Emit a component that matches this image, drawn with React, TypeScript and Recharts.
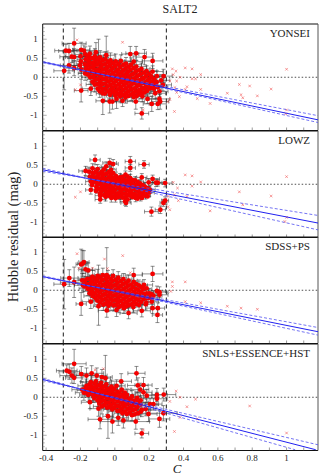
import { ComposedChart, Scatter, ErrorBar, XAxis, YAxis, ReferenceLine } from 'recharts';

type Pt = [number, number, number, number];
type Xy = [number, number];

const xTicks = [-0.4, -0.3, -0.2, -0.1, 0, 0.1, 0.2, 0.3, 0.4, 0.5, 0.6, 0.7, 0.8, 0.9, 1, 1.1];
const xLabels = [-0.4, -0.2, 0, 0.2, 0.4, 0.6, 0.8, 1];
const yTicks = [-1.3, -1.2, -1.1, -1, -0.9, -0.8, -0.7, -0.6, -0.5, -0.4, -0.3, -0.2, -0.1, 0, 0.1, 0.2, 0.3, 0.4, 0.5, 0.6, 0.7, 0.8, 0.9, 1, 1.1, 1.2, 1.3];
const yLabels = [-1, -0.5, 0, 0.5, 1];
const cutLines = [-0.3, 0.3];

// c, residual, c error, residual error
const yonseiDots: Pt[] = [
  [-0.237, 0.89, 0.07, 0.4], [-0.285, 0.7, 0.065, 0.16], [-0.267, 0.69, 0.06, 0.2], [-0.295, 0.17, 0.06, 0.5],
  [-0.267, 0.31, 0.05, 0.2], [-0.237, 0.24, 0.06, 0.2], [-0.25, 0.54, 0.07, 0.15], [-0.237, 0.53, 0.05, 0.22],
  [-0.196, -0.35, 0.04, 0.3], [-0.196, 0.72, 0.05, 0.2], [-0.18, 0.7, 0.06, 0.15], [-0.11, 0.66, 0.07, 0.25],
  [-0.095, 0.5, 0.05, 0.5], [-0.05, 0.58, 0.05, 0.5], [-0.07, -0.62, 0.04, 0.36], [-0.03, -0.64, 0.04, 0.3],
  [-0.014, -0.64, 0.05, 0.2], [0.01, -0.57, 0.05, 0.25], [0.045, -0.62, 0.06, 0.15], [0.122, -0.64, 0.05, 0.2],
  [0.09, 0.61, 0.05, 0.2], [0.124, 0.63, 0.06, 0.18], [0.173, 0.53, 0.05, 0.2], [0.22, 0.43, 0.06, 0.2],
  [0.11, 0.41, 0.05, 0.15], [0.157, -0.95, 0.04, 0.15], [0.215, -0.7, 0.05, 0.2], [0.264, -0.64, 0.05, 0.2],
  [0.25, -0.7, 0.05, 0.15], [0.284, 0.03, 0.05, 0.18], [0.26, -0.57, 0.06, 0.12], [0.16, -0.5, 0.06, 0.15],
  [0.22, 0.15, 0.06, 0.15], [0.23, -0.23, 0.05, 0.15], [0.235, -0.42, 0.06, 0.15], [0.19, -0.57, 0.05, 0.12],
  [0.26, -0.37, 0.05, 0.14], [0.27, -0.08, 0.05, 0.15], [0.28, -0.2, 0.05, 0.16], [-0.14, -0.3, 0.05, 0.18],
  [-0.2, 0.55, 0.06, 0.18], [-0.198, 0.42, 0.05, 0.2], [-0.203, 0.31, 0.05, 0.2], [-0.195, 0.2, 0.05, 0.17],
  [-0.172, 0.6, 0.06, 0.2], [-0.17, 0.47, 0.05, 0.16], [-0.175, 0.35, 0.05, 0.2], [-0.168, 0.23, 0.05, 0.17], [-0.173, 0.1, 0.04, 0.18],
  [-0.145, 0.62, 0.05, 0.2], [-0.142, 0.5, 0.05, 0.18], [-0.148, 0.38, 0.05, 0.16], [-0.14, 0.26, 0.06, 0.18], [-0.146, 0.13, 0.05, 0.16], [-0.143, 0.0, 0.05, 0.18],
  [-0.116, 0.55, 0.05, 0.2], [-0.113, 0.43, 0.05, 0.18], [-0.118, 0.31, 0.05, 0.15], [-0.11, 0.19, 0.06, 0.17], [-0.115, 0.07, 0.05, 0.18], [-0.112, -0.06, 0.05, 0.16], [-0.117, -0.19, 0.05, 0.2],
  [-0.085, 0.52, 0.05, 0.18], [-0.088, 0.39, 0.05, 0.17], [-0.082, 0.26, 0.06, 0.14], [-0.087, 0.14, 0.05, 0.17], [-0.083, 0.01, 0.05, 0.15], [-0.086, -0.12, 0.05, 0.18], [-0.084, -0.25, 0.05, 0.2], [-0.088, -0.37, 0.05, 0.16],
  [-0.055, 0.47, 0.05, 0.2], [-0.058, 0.34, 0.05, 0.17], [-0.052, 0.21, 0.06, 0.15], [-0.057, 0.09, 0.05, 0.17], [-0.053, -0.04, 0.05, 0.15], [-0.056, -0.17, 0.05, 0.18], [-0.054, -0.3, 0.05, 0.16], [-0.058, -0.43, 0.05, 0.18],
  [-0.025, 0.44, 0.05, 0.2], [-0.028, 0.31, 0.05, 0.15], [-0.022, 0.18, 0.06, 0.17], [-0.027, 0.05, 0.05, 0.15], [-0.023, -0.08, 0.05, 0.16], [-0.026, -0.21, 0.06, 0.18], [-0.024, -0.34, 0.05, 0.17], [-0.028, -0.46, 0.05, 0.16],
  [0.005, 0.42, 0.05, 0.19], [0.002, 0.29, 0.05, 0.15], [0.008, 0.16, 0.06, 0.16], [0.003, 0.03, 0.05, 0.17], [0.007, -0.1, 0.05, 0.15], [0.004, -0.23, 0.06, 0.18], [0.006, -0.36, 0.05, 0.16], [0.002, -0.48, 0.05, 0.17],
  [0.035, 0.43, 0.06, 0.16], [0.032, 0.27, 0.05, 0.15], [0.038, 0.13, 0.06, 0.16], [0.033, 0.0, 0.05, 0.16], [0.037, -0.13, 0.05, 0.15], [0.034, -0.26, 0.06, 0.18], [0.036, -0.39, 0.05, 0.16], [0.032, -0.5, 0.05, 0.17],
  [0.065, 0.36, 0.05, 0.16], [0.062, 0.23, 0.05, 0.15], [0.068, 0.1, 0.06, 0.16], [0.063, -0.03, 0.05, 0.15], [0.067, -0.16, 0.05, 0.16], [0.064, -0.29, 0.06, 0.17], [0.066, -0.42, 0.05, 0.16], [0.062, -0.53, 0.05, 0.15],
  [0.095, 0.33, 0.06, 0.18], [0.092, 0.2, 0.05, 0.15], [0.098, 0.07, 0.06, 0.16], [0.093, -0.06, 0.05, 0.15], [0.097, -0.19, 0.05, 0.16], [0.094, -0.32, 0.06, 0.17], [0.096, -0.45, 0.05, 0.16],
  [0.125, 0.28, 0.06, 0.16], [0.122, 0.15, 0.05, 0.15], [0.128, 0.02, 0.06, 0.15], [0.123, -0.11, 0.05, 0.15], [0.127, -0.24, 0.05, 0.16], [0.124, -0.37, 0.06, 0.17], [0.126, -0.5, 0.05, 0.14],
  [0.155, 0.22, 0.05, 0.15], [0.152, 0.09, 0.05, 0.14], [0.158, -0.04, 0.06, 0.15], [0.153, -0.17, 0.05, 0.14], [0.157, -0.3, 0.06, 0.15], [0.154, -0.41, 0.05, 0.15],
  [0.185, 0.16, 0.06, 0.14], [0.182, 0.03, 0.05, 0.14], [0.188, -0.1, 0.05, 0.15], [0.183, -0.23, 0.06, 0.14], [0.187, -0.36, 0.05, 0.13],
  [0.212, 0.02, 0.05, 0.14], [0.216, -0.12, 0.05, 0.14], [0.21, -0.28, 0.06, 0.14], [0.245, 0.03, 0.05, 0.14], [0.243, -0.13, 0.05, 0.14], [0.248, -0.26, 0.06, 0.13],
];
// dots packed inside the solid part of the cloud, their bars cannot be seen
const yonseiCore: Xy[] = [
  [-0.157, 0.56], [-0.155, 0.44], [-0.159, 0.32], [-0.156, 0.2], [-0.158, 0.07],
  [-0.128, 0.5], [-0.13, 0.37], [-0.127, 0.25], [-0.129, 0.13], [-0.126, 0], [-0.13, -0.12],
  [-0.1, 0.47], [-0.102, 0.33], [-0.099, 0.2], [-0.101, 0.08], [-0.098, -0.05], [-0.102, -0.18], [-0.1, -0.3],
  [-0.07, 0.45], [-0.072, 0.33], [-0.069, 0.2], [-0.071, 0.08], [-0.068, -0.05], [-0.072, -0.18], [-0.07, -0.31], [-0.071, -0.42],
  [-0.04, 0.4], [-0.042, 0.27], [-0.039, 0.15], [-0.041, 0.02], [-0.038, -0.11], [-0.042, -0.24], [-0.04, -0.37],
  [-0.01, 0.37], [-0.012, 0.24], [-0.009, 0.11], [-0.011, -0.02], [-0.008, -0.15], [-0.012, -0.28], [-0.01, -0.4],
  [0.02, 0.35], [0.018, 0.2], [0.021, 0.08], [0.019, -0.05], [0.022, -0.19], [0.018, -0.32], [0.02, -0.44],
  [0.05, 0.33], [0.048, 0.18], [0.051, 0.05], [0.049, -0.08], [0.052, -0.2], [0.048, -0.33], [0.05, -0.46],
  [0.08, 0.28], [0.078, 0.15], [0.081, 0.02], [0.079, -0.11], [0.082, -0.24], [0.078, -0.37], [0.08, -0.49],
  [0.11, 0.24], [0.108, 0.09], [0.111, -0.04], [0.109, -0.16], [0.112, -0.3], [0.108, -0.42], [0.11, -0.52],
  [0.14, 0.18], [0.138, 0.05], [0.141, -0.08], [0.139, -0.21], [0.142, -0.34], [0.138, -0.45],
  [0.17, 0.12], [0.168, -0.02], [0.171, -0.15], [0.169, -0.28], [0.172, -0.4],
  [0.2, 0.08], [0.198, -0.05], [0.201, -0.17], [0.199, -0.3], [0.228, -0.05], [0.23, -0.19], [0.227, -0.3],
];
const yonseiCrosses: Xy[] = [
  [0.335, 0.22], [0.356, 0.16], [0.41, 0.245], [0.45, 0.22], [0.5, 0.07], [0.32, -0.1], [0.34, 0.07], [0.38, 0], [0.45, -0.04], [0.47, -0.04],
  [0.36, -0.1], [0.35, -0.27], [0.42, -0.25], [0.41, -0.32], [0.36, -0.4], [0.376, -0.51], [0.48, -0.56], [0.5, -0.32], [0.555, -0.69], [0.655, -0.42],
  [0.725, -0.19], [0.785, -0.23], [0.735, -0.46], [0.745, -0.54], [0.83, -0.49], [0.91, -0.31], [1.0, 0.21], [1.0, -0.86], [0.995, -0.96], [0.347, -0.9],
  [0.32, -0.58], [0.31, -0.64], [0.045, 0.92], [-0.22, 0.98], [0.165, -0.86], [-0.23, -0.33], [-0.2, -0.2],
];
const yonseiFit: Xy[] = [[-0.42, 0.4], [1.183, -1.12]];
const yonseiUpper: Xy[] = [[-0.42, 0.38], [1.183, -1.01]];
const yonseiLower: Xy[] = [[-0.42, 0.42], [1.183, -1.19]];

const lowzDots: Pt[] = [
  [-0.115, 0.64, 0.03, 0.13], [0.09, 0.6, 0.03, 0.13], [0.17, 0.52, 0.03, 0.1], [0.09, 0.43, 0.03, 0.09], [-0.03, 0.56, 0.04, 0.12], [-0.01, 0.53, 0.03, 0.12],
  [0.157, 0.18, 0.03, 0.1], [0.22, 0.14, 0.04, 0.1], [0.197, 0.05, 0.03, 0.1], [0.24, 0.04, 0.03, 0.1], [0.25, 0.04, 0.03, 0.09], [0.293, 0.03, 0.04, 0.1],
  [0.213, -0.72, 0.04, 0.12], [0.265, -0.67, 0.03, 0.1], [0.283, -0.49, 0.02, 0.09], [0.293, -0.43, 0.02, 0.1], [-0.085, -0.4, 0.03, 0.1], [0.06, -0.45, 0.03, 0.1], [0.065, -0.49, 0.03, 0.09],
  [-0.17, 0.35, 0.04, 0.12], [-0.15, 0.33, 0.04, 0.12], [-0.145, 0.2, 0.03, 0.11], [-0.13, 0.42, 0.04, 0.12], [-0.118, 0.3, 0.03, 0.12], [-0.125, 0.14, 0.03, 0.11], [-0.14, 0.07, 0.03, 0.11], [-0.14, -0.15, 0.03, 0.11],
  [-0.1, 0.4, 0.03, 0.12], [-0.097, 0.24, 0.04, 0.11], [-0.102, 0.12, 0.03, 0.1], [-0.098, 0.0, 0.03, 0.11], [-0.104, -0.13, 0.03, 0.1], [-0.075, 0.33, 0.03, 0.11], [-0.072, 0.2, 0.03, 0.1], [-0.078, 0.07, 0.04, 0.1], [-0.074, -0.06, 0.03, 0.11], [-0.079, -0.2, 0.03, 0.1], [-0.085, -0.3, 0.03, 0.1],
  [-0.05, 0.47, 0.03, 0.12], [-0.047, 0.28, 0.03, 0.11], [-0.053, 0.14, 0.04, 0.1], [-0.049, 0.02, 0.03, 0.1], [-0.052, -0.1, 0.03, 0.11], [-0.048, -0.22, 0.03, 0.1], [-0.054, -0.33, 0.03, 0.11],
  [-0.022, 0.38, 0.03, 0.11], [-0.024, 0.24, 0.03, 0.11], [-0.019, 0.12, 0.04, 0.1], [-0.026, 0.0, 0.03, 0.1], [-0.021, -0.12, 0.03, 0.11], [-0.025, -0.25, 0.03, 0.1], [-0.02, -0.36, 0.03, 0.11],
  [0.006, 0.22, 0.03, 0.1], [0.003, 0.1, 0.03, 0.1], [0.008, -0.02, 0.04, 0.1], [0.002, -0.14, 0.03, 0.1], [0.007, -0.27, 0.03, 0.1], [0.004, -0.37, 0.03, 0.1],
  [0.03, 0.18, 0.03, 0.1], [0.034, 0.06, 0.03, 0.1], [0.028, -0.06, 0.04, 0.1], [0.033, -0.18, 0.03, 0.1], [0.029, -0.3, 0.03, 0.1],
  [0.062, 0.25, 0.03, 0.1], [0.058, 0.11, 0.03, 0.1], [0.064, -0.01, 0.03, 0.1], [0.059, -0.13, 0.04, 0.1], [0.063, -0.25, 0.03, 0.1], [0.06, -0.36, 0.03, 0.1],
  [0.09, 0.16, 0.03, 0.1], [0.087, 0.05, 0.03, 0.1], [0.092, -0.07, 0.03, 0.1], [0.088, -0.19, 0.04, 0.1], [0.091, -0.3, 0.03, 0.1],
  [0.118, 0.1, 0.03, 0.1], [0.115, -0.02, 0.03, 0.1], [0.12, -0.14, 0.03, 0.09], [0.116, -0.26, 0.03, 0.1], [0.121, -0.36, 0.03, 0.1],
  [0.146, 0.02, 0.03, 0.1], [0.149, -0.1, 0.03, 0.1], [0.144, -0.22, 0.03, 0.1], [0.15, -0.34, 0.03, 0.1], [0.175, -0.06, 0.03, 0.1], [0.172, -0.18, 0.03, 0.1], [0.178, -0.3, 0.03, 0.09],
  [0.205, -0.14, 0.03, 0.1], [0.2, -0.22, 0.03, 0.1],
];
const lowzCore: Xy[] = [
  [-0.13, 0.3], [-0.131, 0.2], [-0.129, 0.08], [-0.132, -0.02],
  [-0.11, 0.33], [-0.109, 0.18], [-0.111, 0.06], [-0.108, -0.07], [-0.11, -0.18],
  [-0.087, 0.28], [-0.088, 0.14], [-0.086, 0.01], [-0.089, -0.12], [-0.087, -0.25],
  [-0.063, 0.39], [-0.062, 0.26], [-0.064, 0.1], [-0.061, -0.03], [-0.063, -0.15], [-0.062, -0.28],
  [-0.035, 0.32], [-0.036, 0.18], [-0.034, 0.06], [-0.037, -0.06], [-0.035, -0.18], [-0.036, -0.3],
  [-0.01, 0.29], [-0.011, 0.16], [-0.009, 0.04], [-0.012, -0.08], [-0.01, -0.2], [-0.011, -0.32],
  [0.018, 0.14], [0.017, 0.02], [0.019, -0.1], [0.016, -0.24], [0.018, -0.34],
  [0.045, 0.19], [0.044, 0.08], [0.046, -0.03], [0.043, -0.14], [0.045, -0.25], [0.044, -0.35],
  [0.075, 0.2], [0.074, 0.08], [0.076, -0.04], [0.073, -0.16], [0.075, -0.28], [0.074, -0.4],
  [0.103, 0.11], [0.102, 0], [0.104, -0.12], [0.101, -0.24], [0.103, -0.34],
  [0.132, 0.06], [0.131, -0.05], [0.133, -0.17], [0.13, -0.29], [0.132, -0.38],
  [0.16, -0.02], [0.159, -0.13], [0.161, -0.25], [0.158, -0.36], [0.19, -0.1], [0.189, -0.22], [0.191, -0.32],
];
const lowzCrosses: Xy[] = [
  [-0.23, -0.34], [-0.2, -0.2], [0.34, 0.05], [0.41, 0.245], [0.45, 0.22], [0.5, 0.06], [0.45, -0.05], [0.365, -0.1], [0.347, -0.28], [0.37, -0.43],
  [0.42, -0.32], [0.31, -0.32], [0.31, -0.59], [0.32, -0.67], [0.555, -0.7], [0.725, -0.2], [0.745, -0.54], [0.91, -0.31], [1.0, 0.2], [1.0, -0.87], [0.99, -0.98],
];
const lowzFit: Xy[] = [[-0.42, 0.38], [1.183, -1.02]];
const lowzUpper: Xy[] = [[-0.42, 0.34], [1.183, -0.82]];
const lowzLower: Xy[] = [[-0.42, 0.42], [1.183, -1.2]];

const sdssDots: Pt[] = [
  [-0.295, 0.16, 0.06, 0.65], [-0.265, 0.32, 0.05, 0.22], [-0.237, 0.21, 0.08, 0.4], [-0.196, 0.68, 0.03, 0.4], [-0.18, 0.74, 0.03, 0.3], [-0.188, 0.7, 0.03, 0.35],
  [-0.196, -0.36, 0.03, 0.3], [-0.17, 0.55, 0.04, 0.2], [-0.155, 0.52, 0.04, 0.2], [0.22, 0.43, 0.06, 0.2], [0.11, 0.4, 0.05, 0.18], [-0.047, 0.4, 0.04, 0.72],
  [-0.095, 0.36, 0.05, 0.3], [0.248, -0.65, 0.03, 0.2], [0.22, -0.47, 0.04, 0.14], [0.25, -0.47, 0.04, 0.14], [0.08, -0.6, 0.05, 0.15], [0.18, -0.37, 0.05, 0.15], [0.157, -0.54, 0.05, 0.16],
  [-0.047, -0.53, 0.05, 0.18], [-0.095, -0.42, 0.03, 0.5], [-0.14, -0.3, 0.05, 0.18], [0.01, -0.52, 0.05, 0.17], [0.215, -0.3, 0.04, 0.14], [0.26, -0.05, 0.05, 0.14], [0.26, -0.12, 0.05, 0.12], [0.245, -0.02, 0.05, 0.13],
  [-0.19, 0.26, 0.05, 0.18], [-0.185, 0.13, 0.05, 0.17], [-0.16, 0.3, 0.05, 0.18], [-0.165, 0.17, 0.05, 0.16], [-0.158, 0.04, 0.05, 0.18],
  [-0.13, 0.36, 0.05, 0.17], [-0.135, 0.23, 0.05, 0.16], [-0.128, 0.1, 0.05, 0.17], [-0.133, -0.03, 0.05, 0.16], [-0.13, -0.15, 0.05, 0.18],
  [-0.1, 0.38, 0.05, 0.17], [-0.104, 0.25, 0.05, 0.16], [-0.098, 0.12, 0.05, 0.17], [-0.103, -0.01, 0.05, 0.15], [-0.099, -0.14, 0.05, 0.16], [-0.102, -0.27, 0.05, 0.17],
  [-0.07, 0.4, 0.05, 0.18], [-0.074, 0.27, 0.05, 0.16], [-0.068, 0.14, 0.05, 0.15], [-0.073, 0.01, 0.05, 0.16], [-0.069, -0.12, 0.05, 0.15], [-0.072, -0.25, 0.05, 0.17], [-0.067, -0.38, 0.05, 0.15],
  [-0.04, 0.35, 0.05, 0.17], [-0.044, 0.23, 0.05, 0.15], [-0.038, 0.1, 0.05, 0.15], [-0.043, -0.03, 0.05, 0.16], [-0.039, -0.16, 0.05, 0.15], [-0.042, -0.29, 0.05, 0.16], [-0.037, -0.41, 0.05, 0.15],
  [-0.01, 0.38, 0.05, 0.16], [-0.014, 0.25, 0.05, 0.15], [-0.008, 0.12, 0.05, 0.15], [-0.013, -0.01, 0.05, 0.15], [-0.009, -0.14, 0.05, 0.15], [-0.012, -0.27, 0.05, 0.16], [-0.007, -0.4, 0.05, 0.15],
  [0.02, 0.33, 0.05, 0.16], [0.016, 0.2, 0.05, 0.15], [0.022, 0.07, 0.05, 0.15], [0.017, -0.06, 0.05, 0.14], [0.021, -0.19, 0.05, 0.15], [0.018, -0.32, 0.05, 0.15], [0.023, -0.44, 0.05, 0.15],
  [0.05, 0.29, 0.05, 0.15], [0.046, 0.16, 0.05, 0.15], [0.052, 0.03, 0.05, 0.14], [0.047, -0.1, 0.05, 0.15], [0.051, -0.23, 0.05, 0.14], [0.048, -0.36, 0.05, 0.15], [0.053, -0.47, 0.05, 0.14],
  [0.08, 0.25, 0.05, 0.15], [0.076, 0.12, 0.05, 0.14], [0.082, -0.01, 0.05, 0.14], [0.077, -0.14, 0.05, 0.14], [0.081, -0.27, 0.05, 0.15], [0.078, -0.4, 0.05, 0.14],
  [0.11, 0.22, 0.05, 0.14], [0.106, 0.08, 0.05, 0.14], [0.112, -0.05, 0.05, 0.14], [0.107, -0.18, 0.05, 0.14], [0.111, -0.31, 0.05, 0.14], [0.108, -0.44, 0.05, 0.14],
  [0.14, 0.13, 0.05, 0.14], [0.136, 0.0, 0.05, 0.14], [0.142, -0.13, 0.05, 0.14], [0.137, -0.26, 0.05, 0.14], [0.141, -0.39, 0.05, 0.13],
  [0.17, 0.14, 0.05, 0.14], [0.166, 0.03, 0.05, 0.14], [0.172, -0.1, 0.05, 0.14], [0.167, -0.23, 0.05, 0.14], [0.2, -0.08, 0.05, 0.13], [0.197, -0.2, 0.05, 0.13], [0.225, -0.14, 0.05, 0.13],
];
const sdssCore: Xy[] = [
  [-0.175, 0.25], [-0.176, 0.1],
  [-0.145, 0.3], [-0.146, 0.17], [-0.144, 0.04], [-0.147, -0.08],
  [-0.115, 0.3], [-0.116, 0.18], [-0.114, 0.05], [-0.117, -0.08], [-0.115, -0.2],
  [-0.085, 0.33], [-0.086, 0.2], [-0.084, 0.07], [-0.087, -0.06], [-0.085, -0.19], [-0.086, -0.32],
  [-0.055, 0.3], [-0.056, 0.17], [-0.054, 0.04], [-0.057, -0.09], [-0.055, -0.22], [-0.056, -0.35],
  [-0.025, 0.3], [-0.026, 0.17], [-0.024, 0.04], [-0.027, -0.09], [-0.025, -0.22], [-0.026, -0.35],
  [0.005, 0.27], [0.004, 0.14], [0.006, 0.01], [0.003, -0.12], [0.005, -0.25], [0.004, -0.38],
  [0.035, 0.24], [0.034, 0.11], [0.036, -0.02], [0.033, -0.15], [0.035, -0.28], [0.034, -0.41],
  [0.065, 0.2], [0.064, 0.07], [0.066, -0.06], [0.063, -0.19], [0.065, -0.32], [0.064, -0.43],
  [0.095, 0.15], [0.094, 0.02], [0.096, -0.11], [0.093, -0.24], [0.095, -0.37],
  [0.125, 0.16], [0.124, 0.03], [0.126, -0.1], [0.123, -0.23], [0.125, -0.36],
  [0.155, 0.08], [0.154, -0.05], [0.156, -0.18], [0.153, -0.31],
  [0.185, 0.05], [0.184, -0.08], [0.186, -0.21], [0.183, -0.33], [0.213, -0.1], [0.212, -0.2],
];
const sdssCrosses: Xy[] = [
  [-0.22, 0.96], [-0.06, 0.82], [0.046, 0.91], [-0.043, 0.57], [-0.21, 0.58], [-0.13, 0.58], [0.09, 0.46], [0.335, 0.22], [0.335, 0.1], [0.41, 0.22],
  [0.326, -0.03], [0.41, -0.3], [0.5, -0.33], [0.655, -0.42], [0.735, -0.47], [0.83, -0.5],
];
const sdssFit: Xy[] = [[-0.42, 0.36], [1.183, -1.09]];
const sdssUpper: Xy[] = [[-0.42, 0.34], [1.183, -0.98]];
const sdssLower: Xy[] = [[-0.42, 0.38], [1.183, -1.18]];

const snlsDots: Pt[] = [
  [-0.237, 0.88, 0.07, 0.38], [-0.28, 0.7, 0.06, 0.15], [-0.265, 0.67, 0.06, 0.2], [-0.25, 0.57, 0.07, 0.2], [-0.237, 0.51, 0.05, 0.15], [-0.195, 0.61, 0.06, 0.2],
  [-0.165, 0.57, 0.06, 0.2], [-0.135, 0.63, 0.07, 0.2], [-0.105, 0.57, 0.06, 0.2], [-0.075, 0.53, 0.06, 0.2], [0.126, 0.63, 0.05, 0.18], [0.037, 0.42, 0.06, 0.2],
  [0.134, 0.31, 0.06, 0.2], [0.167, 0.32, 0.05, 0.2], [0.148, 0.2, 0.05, 0.17], [0.167, 0.13, 0.05, 0.17], [0.186, 0.04, 0.05, 0.17], [0.245, 0.06, 0.06, 0.17], [0.285, 0.07, 0.07, 0.17],
  [0.18, -0.31, 0.06, 0.18], [0.196, -0.44, 0.05, 0.2], [0.157, -0.33, 0.05, 0.18], [0.26, -0.57, 0.06, 0.22], [0.283, -0.42, 0.08, 0.2], [0.245, -0.04, 0.06, 0.17], [-0.086, -0.58, 0.07, 0.25],
  [-0.014, -0.64, 0.07, 0.3], [0.02, -0.54, 0.06, 0.2], [0.05, -0.61, 0.07, 0.2], [0.122, -0.64, 0.08, 0.2], [0.157, -0.95, 0.04, 0.12], [0.205, -0.18, 0.05, 0.16], [0.225, -0.18, 0.05, 0.16],
  [-0.095, -0.3, 0.05, 0.2], [-0.145, -0.13, 0.05, 0.17], [-0.055, 0.5, 0.03, 0.6], [-0.04, -0.5, 0.03, 0.58],
  [-0.19, 0.2, 0.06, 0.2], [-0.18, 0.12, 0.05, 0.2], [-0.165, 0.3, 0.05, 0.18], [-0.16, 0.18, 0.06, 0.18], [-0.155, 0.06, 0.05, 0.17],
  [-0.14, 0.4, 0.06, 0.18], [-0.135, 0.28, 0.05, 0.18], [-0.13, 0.16, 0.06, 0.17], [-0.125, 0.04, 0.05, 0.18],
  [-0.11, 0.42, 0.06, 0.18], [-0.105, 0.3, 0.05, 0.17], [-0.1, 0.18, 0.06, 0.17], [-0.105, 0.06, 0.05, 0.18], [-0.1, -0.08, 0.05, 0.17],
  [-0.08, 0.38, 0.05, 0.17], [-0.075, 0.26, 0.06, 0.17], [-0.08, 0.14, 0.05, 0.17], [-0.075, 0.02, 0.06, 0.18], [-0.08, -0.1, 0.05, 0.17], [-0.075, -0.24, 0.05, 0.2],
  [-0.05, 0.34, 0.05, 0.17], [-0.045, 0.22, 0.06, 0.16], [-0.05, 0.1, 0.05, 0.17], [-0.045, -0.02, 0.06, 0.16], [-0.05, -0.14, 0.05, 0.17], [-0.045, -0.27, 0.05, 0.18],
  [-0.02, 0.28, 0.05, 0.17], [-0.015, 0.16, 0.06, 0.16], [-0.02, 0.04, 0.05, 0.16], [-0.015, -0.08, 0.06, 0.16], [-0.02, -0.2, 0.05, 0.17], [-0.015, -0.32, 0.05, 0.18],
  [0.01, 0.3, 0.05, 0.16], [0.015, 0.14, 0.06, 0.16], [0.01, 0.02, 0.05, 0.16], [0.015, -0.1, 0.06, 0.16], [0.01, -0.22, 0.05, 0.16], [0.015, -0.36, 0.05, 0.17],
  [0.04, 0.2, 0.05, 0.16], [0.045, 0.06, 0.06, 0.16], [0.04, -0.06, 0.05, 0.16], [0.045, -0.18, 0.06, 0.16], [0.04, -0.3, 0.05, 0.17], [0.045, -0.42, 0.05, 0.16],
  [0.07, 0.06, 0.05, 0.16], [0.075, -0.06, 0.06, 0.16], [0.07, -0.18, 0.05, 0.16], [0.075, -0.3, 0.06, 0.16], [0.07, -0.44, 0.05, 0.16],
  [0.1, 0.02, 0.05, 0.16], [0.105, -0.1, 0.06, 0.16], [0.1, -0.22, 0.05, 0.16], [0.105, -0.34, 0.06, 0.16], [0.1, -0.47, 0.05, 0.15],
  [0.13, -0.02, 0.05, 0.16], [0.135, -0.14, 0.06, 0.15], [0.13, -0.26, 0.05, 0.15], [0.135, -0.42, 0.05, 0.16],
];
const snlsCore: Xy[] = [
  [-0.17, 0.24], [-0.171, 0.12],
  [-0.147, 0.34], [-0.148, 0.22], [-0.146, 0.1],
  [-0.118, 0.36], [-0.119, 0.24], [-0.117, 0.1], [-0.12, -0.02],
  [-0.09, 0.32], [-0.091, 0.2], [-0.089, 0.08], [-0.092, -0.04], [-0.09, -0.17],
  [-0.062, 0.28], [-0.063, 0.16], [-0.061, 0.04], [-0.064, -0.08], [-0.062, -0.2],
  [-0.033, 0.22], [-0.034, 0.1], [-0.032, -0.02], [-0.035, -0.14], [-0.033, -0.26],
  [-0.003, 0.22], [-0.004, 0.08], [-0.002, -0.04], [-0.005, -0.16], [-0.003, -0.28],
  [0.027, 0.12], [0.026, 0], [0.028, -0.12], [0.025, -0.24], [0.027, -0.36],
  [0.058, 0.12], [0.057, 0], [0.059, -0.12], [0.056, -0.24], [0.058, -0.37],
  [0.088, -0.04], [0.087, -0.16], [0.089, -0.28], [0.086, -0.4],
  [0.118, -0.08], [0.117, -0.2], [0.119, -0.32], [0.116, -0.45],
  [0.15, -0.08], [0.149, -0.2], [0.151, -0.38],
];
const snlsCrosses: Xy[] = [
  [-0.066, 0.75], [-0.115, 0.72], [0.357, 0.16], [0.32, -0.11], [0.38, 0], [0.47, -0.05], [0.42, -0.25], [0.38, -0.53], [0.48, -0.57], [0.347, -0.9], [0.166, -0.86], [0.785, -0.23], [1.0, -0.94],
];
const snlsFit: Xy[] = [[-0.42, 0.47], [1.17, -1.38]];
const snlsUpper: Xy[] = [[-0.42, 0.44], [1.183, -1.25]];
const snlsLower: Xy[] = [[-0.42, 0.5], [1.05, -1.38]];

const panels = [
  { name: 'YONSEI', dots: yonseiDots, core: yonseiCore, crosses: yonseiCrosses, fit: yonseiFit, upper: yonseiUpper, lower: yonseiLower },
  { name: 'LOWZ', dots: lowzDots, core: lowzCore, crosses: lowzCrosses, fit: lowzFit, upper: lowzUpper, lower: lowzLower },
  { name: 'SDSS+PS', dots: sdssDots, core: sdssCore, crosses: sdssCrosses, fit: sdssFit, upper: sdssUpper, lower: sdssLower },
  { name: 'SNLS+ESSENCE+HST', dots: snlsDots, core: snlsCore, crosses: snlsCrosses, fit: snlsFit, upper: snlsUpper, lower: snlsLower },
];

const FONT = '"Liberation Serif", serif';
const PLOT_H = 106.5;
const TOP = 24;
const LEFT = 42.7;
const PAD = 2;

const toXy = (pts: Xy[]) => pts.map(([c, r]) => ({ c, r }));
const toDots = (pts: Pt[]) => pts.map(([c, r, ex, ey]) => ({ c, r, ex, ey }));

const XTick = ({ x, y, payload, dir, label }: any) => (
  <g>
    <line x1={x} x2={x} y1={y} y2={y + dir * 3} stroke="#555" strokeWidth={0.6} />
    {label && xLabels.includes(payload.value) && (
      <text x={x} y={y + 10} textAnchor="middle" fontSize={9} fontFamily={FONT} fill="#222">{payload.value}</text>
    )}
  </g>
);

const YTick = ({ x, y, payload, dir, label }: any) => {
  const major = yLabels.includes(payload.value);
  return (
    <g>
      <line x1={x} x2={x + dir * (major ? 4 : 2)} y1={y} y2={y} stroke="#777" strokeWidth={0.6} />
      {label && major && (
        <text x={x - 5} y={y + 3} textAnchor="end" fontSize={9} fontFamily={FONT} fill="#222">{payload.value}</text>
      )}
    </g>
  );
};

const NoShape = () => <g />;
const Dot = ({ cx, cy }: any) => <circle cx={cx} cy={cy} r={2.4} fill="#f40000" />;

const Cross = ({ cx, cy }: any) => (
  <g stroke="#f03030" strokeWidth={0.6} opacity={0.8}>
    <line x1={cx - 1.3} x2={cx + 1.3} y1={cy - 1.3} y2={cy + 1.3} />
    <line x1={cx - 1.3} x2={cx + 1.3} y1={cy + 1.3} y2={cy - 1.3} />
  </g>
);

const Panel = ({ panel, index }: any) => {
  const last = index === panels.length - 1;
  const bottom = last ? 24 : PAD;
  return (
    <div style={{ position: 'absolute', left: 0, top: TOP + index * PLOT_H - PAD }}>
      <ComposedChart
        width={327}
        height={PLOT_H + PAD + bottom}
        margin={{ top: PAD - 1, right: 8, bottom: bottom - 1, left: LEFT - 1 }}
      >
        <XAxis xAxisId="b" dataKey="c" type="number" domain={[-0.42, 1.183]} ticks={xTicks} interval={0} height={1}
          allowDataOverflow tickLine={false} tickSize={0} tickMargin={0} axisLine={{ stroke: '#111', strokeWidth: 1 }}
          tick={<XTick dir={-1} label={last} />} />
        <XAxis xAxisId="t" orientation="top" dataKey="c" type="number" domain={[-0.42, 1.183]} ticks={xTicks} interval={0} height={1}
          tickLine={false} tickSize={0} tickMargin={0} axisLine={{ stroke: '#111', strokeWidth: 1 }} tick={<XTick dir={1} label={false} />} />
        <YAxis yAxisId="l" dataKey="r" type="number" domain={[-1.4, 1.4]} ticks={yTicks} interval={0} width={1}
          allowDataOverflow tickLine={false} tickSize={0} tickMargin={0} axisLine={{ stroke: '#111', strokeWidth: 1 }}
          tick={<YTick dir={1} label />} />
        <YAxis yAxisId="r" orientation="right" dataKey="r" type="number" domain={[-1.4, 1.4]} ticks={yTicks} interval={0} width={1}
          tickLine={false} tickSize={0} tickMargin={0} axisLine={{ stroke: '#555', strokeWidth: 1 }} tick={<YTick dir={-1} label={false} />} />
        {cutLines.map((c) => (
          <ReferenceLine key={c} xAxisId="b" yAxisId="l" x={c} stroke="#000" strokeWidth={0.9} strokeDasharray="4 3" />
        ))}
        <ReferenceLine xAxisId="b" yAxisId="l" y={0} stroke="#000" strokeWidth={0.7} strokeDasharray="1.5 2" />
        <Scatter xAxisId="b" yAxisId="l" data={toXy(panel.crosses)} shape={<Cross />} isAnimationActive={false} />
        <Scatter xAxisId="b" yAxisId="l" data={toDots(panel.dots)} shape={<NoShape />} isAnimationActive={false}>
          <ErrorBar dataKey="ex" direction="x" width={2} stroke="#333" strokeWidth={0.55} isAnimationActive={false} />
          <ErrorBar dataKey="ey" direction="y" width={2} stroke="#333" strokeWidth={0.55} isAnimationActive={false} />
        </Scatter>
        <Scatter xAxisId="b" yAxisId="l" data={toDots(panel.dots)} shape={<Dot />} isAnimationActive={false} />
        <Scatter xAxisId="b" yAxisId="l" data={toXy(panel.core)} shape={<Dot />} isAnimationActive={false} />
        <Scatter xAxisId="b" yAxisId="l" data={toXy(panel.fit)} shape={<NoShape />} line={{ stroke: '#2020f0', strokeWidth: 1 }} isAnimationActive={false} />
        <Scatter xAxisId="b" yAxisId="l" data={toXy(panel.upper)} shape={<NoShape />} line={{ stroke: '#5050f0', strokeWidth: 0.8, strokeDasharray: '3 2' }} isAnimationActive={false} />
        <Scatter xAxisId="b" yAxisId="l" data={toXy(panel.lower)} shape={<NoShape />} line={{ stroke: '#5050f0', strokeWidth: 0.8, strokeDasharray: '3 2' }} isAnimationActive={false} />
      </ComposedChart>
    </div>
  );
};

export default function App() {
  return (
    <div style={{ position: 'absolute', left: 0, top: 0, width: 327, height: 475, background: '#fff', overflow: 'hidden' }}>
      {panels.map((panel, i) => (
        <Panel key={panel.name} panel={panel} index={i} />
      ))}
      <svg width={327} height={475} style={{ position: 'absolute', left: 0, top: 0, pointerEvents: 'none' }} fontFamily={FONT} fill="#222">
        <text x={180} y={13} textAnchor="middle" fontSize={12}>SALT2</text>
        {panels.map((panel, i) => (
          <text key={panel.name} x={310} y={TOP + i * PLOT_H + 13} textAnchor="end" fontSize={11}>{panel.name}</text>
        ))}
        <text x={18} y={237} transform="rotate(-90 18 237)" textAnchor="middle" fontSize={14.5}>Hubble residual (mag)</text>
        <text x={177} y={473} textAnchor="middle" fontSize={13} fontStyle="italic">C</text>
      </svg>
    </div>
  );
}
